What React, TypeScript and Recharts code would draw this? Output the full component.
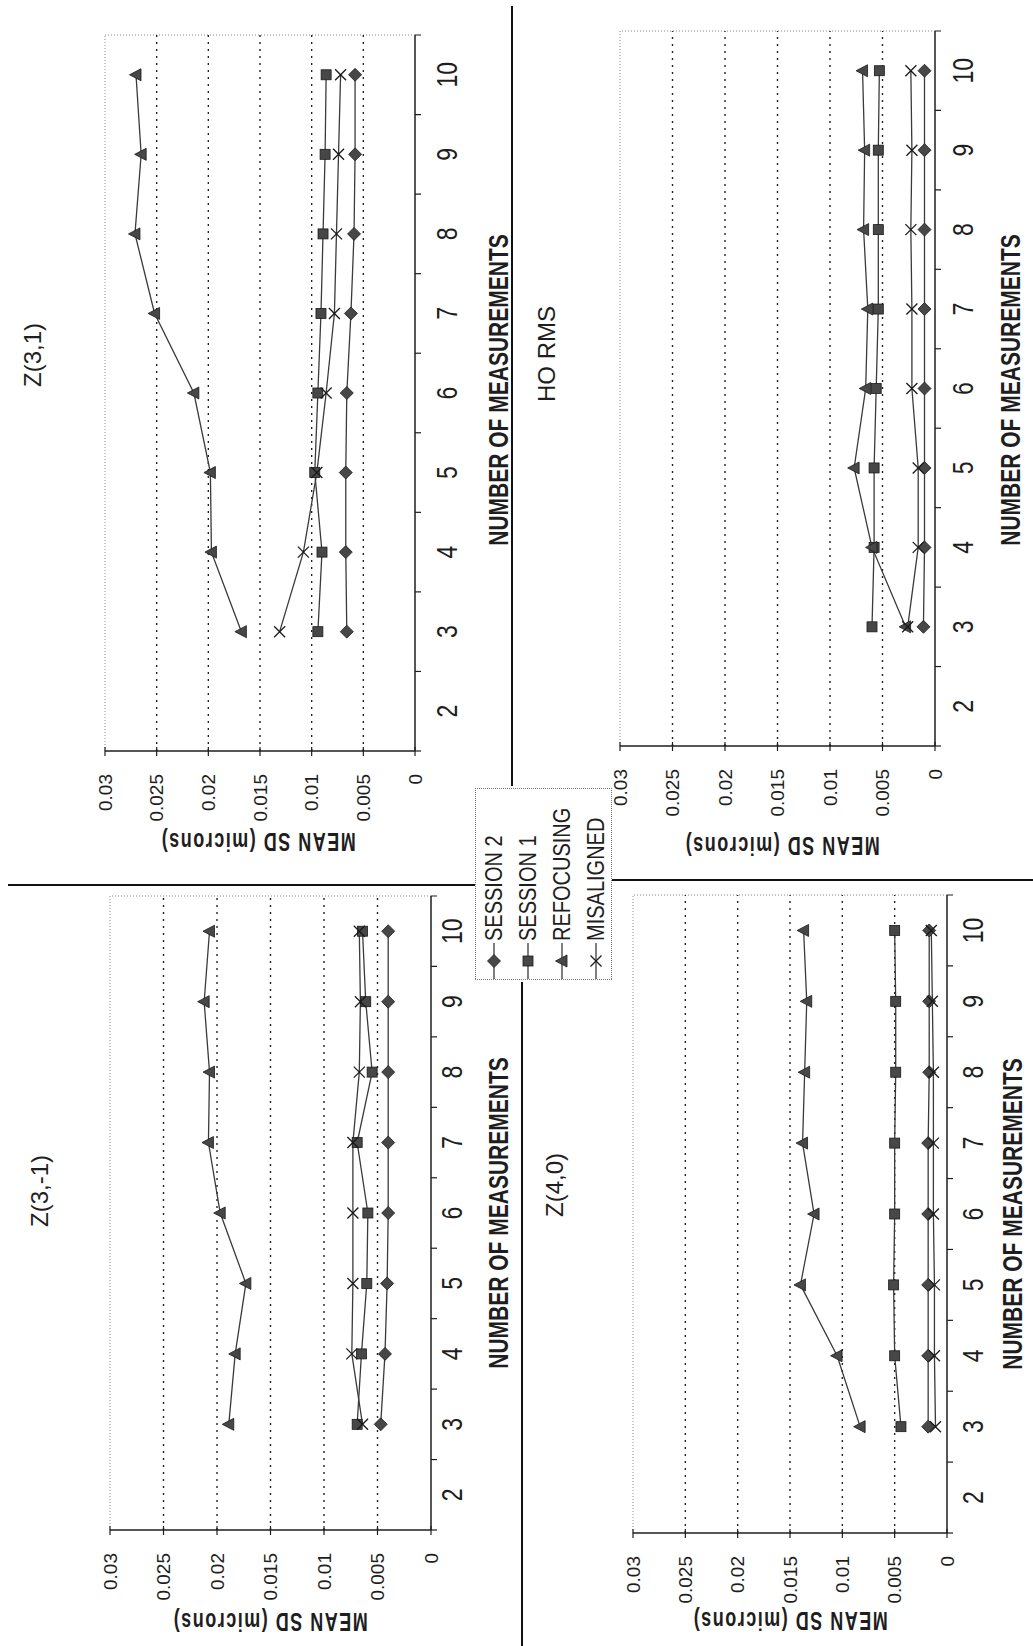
import { LineChart, Line, XAxis, YAxis, ReferenceLine } from 'recharts'

// measurement counts (x categories) and axis ticks
const MEASUREMENTS = [3, 4, 5, 6, 7, 8, 9, 10]
const X_LABELS = [2, 3, 4, 5, 6, 7, 8, 9, 10]
const Y_TICKS = [0, 0.005, 0.01, 0.015, 0.02, 0.025, 0.03]
const GRID_VALUES = [0.005, 0.01, 0.015, 0.02, 0.025]

const SERIES_NAMES = ['SESSION 2', 'SESSION 1', 'REFOCUSING', 'MISALIGNED']

// Z(3,1)
const Z31_SESSION2 = [0.0066, 0.0067, 0.0067, 0.0066, 0.0062, 0.0059, 0.0058, 0.0058]
const Z31_SESSION1 = [0.0094, 0.009, 0.0097, 0.0094, 0.0091, 0.0089, 0.0087, 0.0086]
const Z31_REFOCUSING = [0.0168, 0.0197, 0.0198, 0.0214, 0.0252, 0.0271, 0.0265, 0.027]
const Z31_MISALIGNED = [0.0131, 0.0108, 0.0095, 0.0086, 0.0078, 0.0076, 0.0074, 0.0072]

// HO RMS
const HO_SESSION2 = [0.0011, 0.001, 0.001, 0.001, 0.001, 0.001, 0.001, 0.001]
const HO_SESSION1 = [0.006, 0.0058, 0.0058, 0.0056, 0.0054, 0.0054, 0.0054, 0.0053]
const HO_REFOCUSING = [0.0028, 0.006, 0.0077, 0.0066, 0.0064, 0.0068, 0.0067, 0.0069]
const HO_MISALIGNED = [0.0026, 0.0016, 0.0016, 0.0022, 0.0022, 0.0023, 0.0022, 0.0023]

// Z(3,-1)
const Z3M1_SESSION2 = [0.0047, 0.0043, 0.0041, 0.004, 0.004, 0.004, 0.004, 0.004]
const Z3M1_SESSION1 = [0.0069, 0.0065, 0.006, 0.0059, 0.0069, 0.0055, 0.0061, 0.0064]
const Z3M1_REFOCUSING = [0.0189, 0.0183, 0.0173, 0.0197, 0.0208, 0.0207, 0.0212, 0.0207]
const Z3M1_MISALIGNED = [0.0064, 0.0074, 0.0073, 0.0073, 0.0073, 0.0067, 0.0066, 0.0067]

// Z(4,0)
const Z40_SESSION2 = [0.0018, 0.0018, 0.0018, 0.0018, 0.0018, 0.0017, 0.0017, 0.0017]
const Z40_SESSION1 = [0.0044, 0.005, 0.0051, 0.005, 0.005, 0.0049, 0.0049, 0.005]
const Z40_REFOCUSING = [0.0083, 0.0105, 0.014, 0.0127, 0.0138, 0.0136, 0.0134, 0.0137]
const Z40_MISALIGNED = [0.0011, 0.0012, 0.0012, 0.0013, 0.0013, 0.0013, 0.0014, 0.0015]

const INK = '#1e1e1e'
const LINE = '#3a3a3a'
const FONT = "'Liberation Sans', Arial, sans-serif"

// tick marks sit on the category boundaries, labels on the categories
const X_TICKS = [...X_LABELS.map((v) => v - 0.5), ...X_LABELS, X_LABELS[X_LABELS.length - 1] + 0.5].sort((a, b) => a - b)

type Kind = 'diamond' | 'square' | 'triangle' | 'cross'
const KINDS: Kind[] = ['diamond', 'square', 'triangle', 'cross']
const KEYS = ['s2', 's1', 'ref', 'mis']

function buildRows(s2: number[], s1: number[], ref: number[], mis: number[]) {
  return MEASUREMENTS.map((n, i) => ({ n, s2: s2[i], s1: s1[i], ref: ref[i], mis: mis[i] }))
}

function Marker({ cx, cy, kind }: { cx: number; cy: number; kind: Kind }) {
  const fill = '#474747'
  const stroke = '#1a1a1a'
  if (kind === 'diamond')
    return <path d={`M${cx},${cy - 6.5}L${cx + 6.5},${cy}L${cx},${cy + 6.5}L${cx - 6.5},${cy}Z`} fill={fill} stroke={stroke} strokeWidth={0.8} />
  if (kind === 'square')
    return <rect x={cx - 5} y={cy - 5} width={10} height={10} fill={fill} stroke={stroke} strokeWidth={0.8} />
  if (kind === 'triangle')
    return <path d={`M${cx},${cy - 6.5}L${cx + 6},${cy + 5}L${cx - 6},${cy + 5}Z`} fill={fill} stroke={stroke} strokeWidth={0.8} />
  return (
    <g stroke={stroke} strokeWidth={1.3}>
      <line x1={cx - 5.5} y1={cy - 5.5} x2={cx + 5.5} y2={cy + 5.5} />
      <line x1={cx - 5.5} y1={cy + 5.5} x2={cx + 5.5} y2={cy - 5.5} />
    </g>
  )
}

function XTick(props: any) {
  const { x, y, payload, dy } = props
  const v = payload.value as number
  if (!Number.isInteger(v)) return <line x1={x} y1={y} x2={x} y2={y + 6} stroke={INK} strokeWidth={1.2} />
  return (
    <g transform={`translate(${x},${y + dy}) scale(1,1.3)`}>
      <text textAnchor="middle" dominantBaseline="central" fontSize={23} fill={INK} fontFamily={FONT}>
        {v}
      </text>
    </g>
  )
}

function YTick(props: any) {
  const { x, y, payload } = props
  return (
    <g>
      <line x1={x - 5} y1={y} x2={x + 4} y2={y} stroke={INK} strokeWidth={1.2} />
      <text x={x - 23} y={y} textAnchor="end" dominantBaseline="central" fontSize={19} fill={INK} fontFamily={FONT}>
        {String(payload.value)}
      </text>
    </g>
  )
}

interface Panel {
  title: string
  rows: ReturnType<typeof buildRows>
  plot: { x: number; y: number; w: number; h: number }
  titlePos: [number, number]
  xTickDy: number
  xTitlePos: [number, number]
  yTitlePos: [number, number]
}

// positions are in the unrotated (landscape) frame
const PANELS: Panel[] = [
  {
    title: 'Z(3,1)',
    rows: buildRows(Z31_SESSION2, Z31_SESSION1, Z31_REFOCUSING, Z31_MISALIGNED),
    plot: { x: 895, y: 105, w: 716, h: 310 },
    titlePos: [1291, 33],
    xTickDy: 32,
    xTitlePos: [1256, 498],
    yTitlePos: [804, 258],
  },
  {
    title: 'HO RMS',
    rows: buildRows(HO_SESSION2, HO_SESSION1, HO_REFOCUSING, HO_MISALIGNED),
    plot: { x: 900, y: 620, w: 715, h: 315 },
    titlePos: [1292, 547],
    xTickDy: 28,
    xTitlePos: [1256, 1010],
    yTitlePos: [800, 782],
  },
  {
    title: 'Z(3,-1)',
    rows: buildRows(Z3M1_SESSION2, Z3M1_SESSION1, Z3M1_REFOCUSING, Z3M1_MISALIGNED),
    plot: { x: 116, y: 110, w: 634, h: 321 },
    titlePos: [455, 40],
    xTickDy: 21,
    xTitlePos: [433, 498],
    yTitlePos: [24, 270],
  },
  {
    title: 'Z(4,0)',
    rows: buildRows(Z40_SESSION2, Z40_SESSION1, Z40_REFOCUSING, Z40_MISALIGNED),
    plot: { x: 113, y: 633, w: 638, h: 314 },
    titlePos: [461, 555],
    xTickDy: 26,
    xTitlePos: [432, 1012],
    yTitlePos: [25, 790],
  },
]

function Centered({ x, y, transform, style, children }: any) {
  return (
    <div style={{ position: 'absolute', left: x, top: y, width: 0, height: 0 }}>
      <span
        style={{
          position: 'absolute',
          left: 0,
          top: 0,
          whiteSpace: 'nowrap',
          lineHeight: 1,
          transform: `translate(-50%, -50%) ${transform ?? ''}`,
          ...style,
        }}
      >
        {children}
      </span>
    </div>
  )
}

function PanelChart({ p }: { p: Panel }) {
  const ML = 20
  const YW = 80
  const MT = 10
  const XH = 40
  const MB = 20
  const MR = 20
  return (
    <>
      <div style={{ position: 'absolute', left: p.plot.x - ML - YW, top: p.plot.y - MT }}>
        <LineChart
          width={p.plot.w + ML + YW + MR}
          height={p.plot.h + MT + XH + MB}
          data={p.rows}
          margin={{ top: MT, right: MR, left: ML, bottom: MB }}
        >
          <XAxis
            dataKey="n"
            type="number"
            domain={[1.5, 10.5]}
            ticks={X_TICKS}
            interval={0}
            height={XH}
            tickSize={0}
            tickMargin={0}
            tickLine={false}
            axisLine={{ stroke: INK, strokeWidth: 1.5 }}
            tick={(t: any) => <XTick {...t} dy={p.xTickDy} />}
          />
          <YAxis
            type="number"
            domain={[0, 0.03]}
            ticks={Y_TICKS}
            interval={0}
            width={YW}
            tickSize={0}
            tickMargin={0}
            tickLine={false}
            axisLine={{ stroke: INK, strokeWidth: 1.5 }}
            tick={(t: any) => <YTick {...t} />}
          />
          <ReferenceLine y={0.03} stroke="#8a8a8a" strokeDasharray="1 2" strokeWidth={1} />
          <ReferenceLine x={10.5} stroke="#8a8a8a" strokeDasharray="1 2" strokeWidth={1} />
          {GRID_VALUES.map((v) => (
            <ReferenceLine key={v} y={v} stroke="#222" strokeDasharray="2 5" strokeWidth={1.4} />
          ))}
          {KEYS.map((k, si) => (
            <Line
              key={k}
              dataKey={k}
              name={SERIES_NAMES[si]}
              stroke={LINE}
              strokeWidth={1.3}
              isAnimationActive={false}
              activeDot={false}
              dot={(d: any) => <Marker key={`${k}-${d.index}`} cx={d.cx} cy={d.cy} kind={KINDS[si]} />}
            />
          ))}
        </LineChart>
      </div>
      <Centered x={p.titlePos[0]} y={p.titlePos[1]} style={{ fontSize: 24, color: INK }}>
        {p.title}
      </Centered>
      <Centered x={p.xTitlePos[0]} y={p.xTitlePos[1]} transform="scale(1, 1.3)" style={{ fontSize: 21, fontWeight: 700, color: INK }}>
        NUMBER OF MEASUREMENTS
      </Centered>
      <Centered
        x={p.yTitlePos[0]}
        y={p.yTitlePos[1]}
        transform="rotate(-90deg) scale(1, 1.45)"
        style={{ fontSize: 18, fontWeight: 700, letterSpacing: 1.5, color: INK }}
      >
        MEAN SD (microns)
      </Centered>
    </>
  )
}

function LegendBox() {
  return (
    <div
      style={{
        position: 'absolute',
        left: 666,
        top: 475,
        width: 192,
        height: 137,
        border: '1px dotted #777',
        boxSizing: 'border-box',
        background: '#fff',
        paddingTop: 1,
      }}
    >
      {SERIES_NAMES.map((name, i) => (
        <div key={name} style={{ display: 'flex', alignItems: 'center', height: 34 }}>
          <svg width={38} height={20} style={{ flex: 'none' }}>
            <line x1={0} y1={10} x2={36} y2={10} stroke={LINE} strokeWidth={1.3} />
            <Marker cx={18} cy={10} kind={KINDS[i]} />
          </svg>
          <span style={{ fontSize: 20, color: INK, display: 'inline-block', transform: 'scale(1, 1.15)', whiteSpace: 'nowrap' }}>
            {name}
          </span>
        </div>
      ))}
    </div>
  )
}

function Rule({ x, y, w, h }: { x: number; y: number; w: number; h: number }) {
  return <div style={{ position: 'absolute', left: x, top: y, width: w, height: h, background: '#111' }} />
}

export default function App() {
  return (
    <div style={{ position: 'absolute', left: 0, top: 0, width: 1033, height: 1646, overflow: 'hidden', background: '#fff' }}>
      <div
        style={{
          position: 'absolute',
          left: 0,
          top: 0,
          width: 1646,
          height: 1033,
          transformOrigin: '0 0',
          transform: 'translate(0px, 1646px) rotate(-90deg)',
          fontFamily: FONT,
          background: '#fff',
        }}
      >
        {/* quadrant separators */}
        <Rule x={0} y={521} w={664} h={2} />
        <Rule x={860} y={511} w={780} h={2} />
        <Rule x={760} y={8} w={2} h={467} />
        <Rule x={765} y={612} w={2} h={421} />
        {PANELS.map((p) => (
          <PanelChart key={p.title} p={p} />
        ))}
        <LegendBox />
      </div>
    </div>
  )
}
